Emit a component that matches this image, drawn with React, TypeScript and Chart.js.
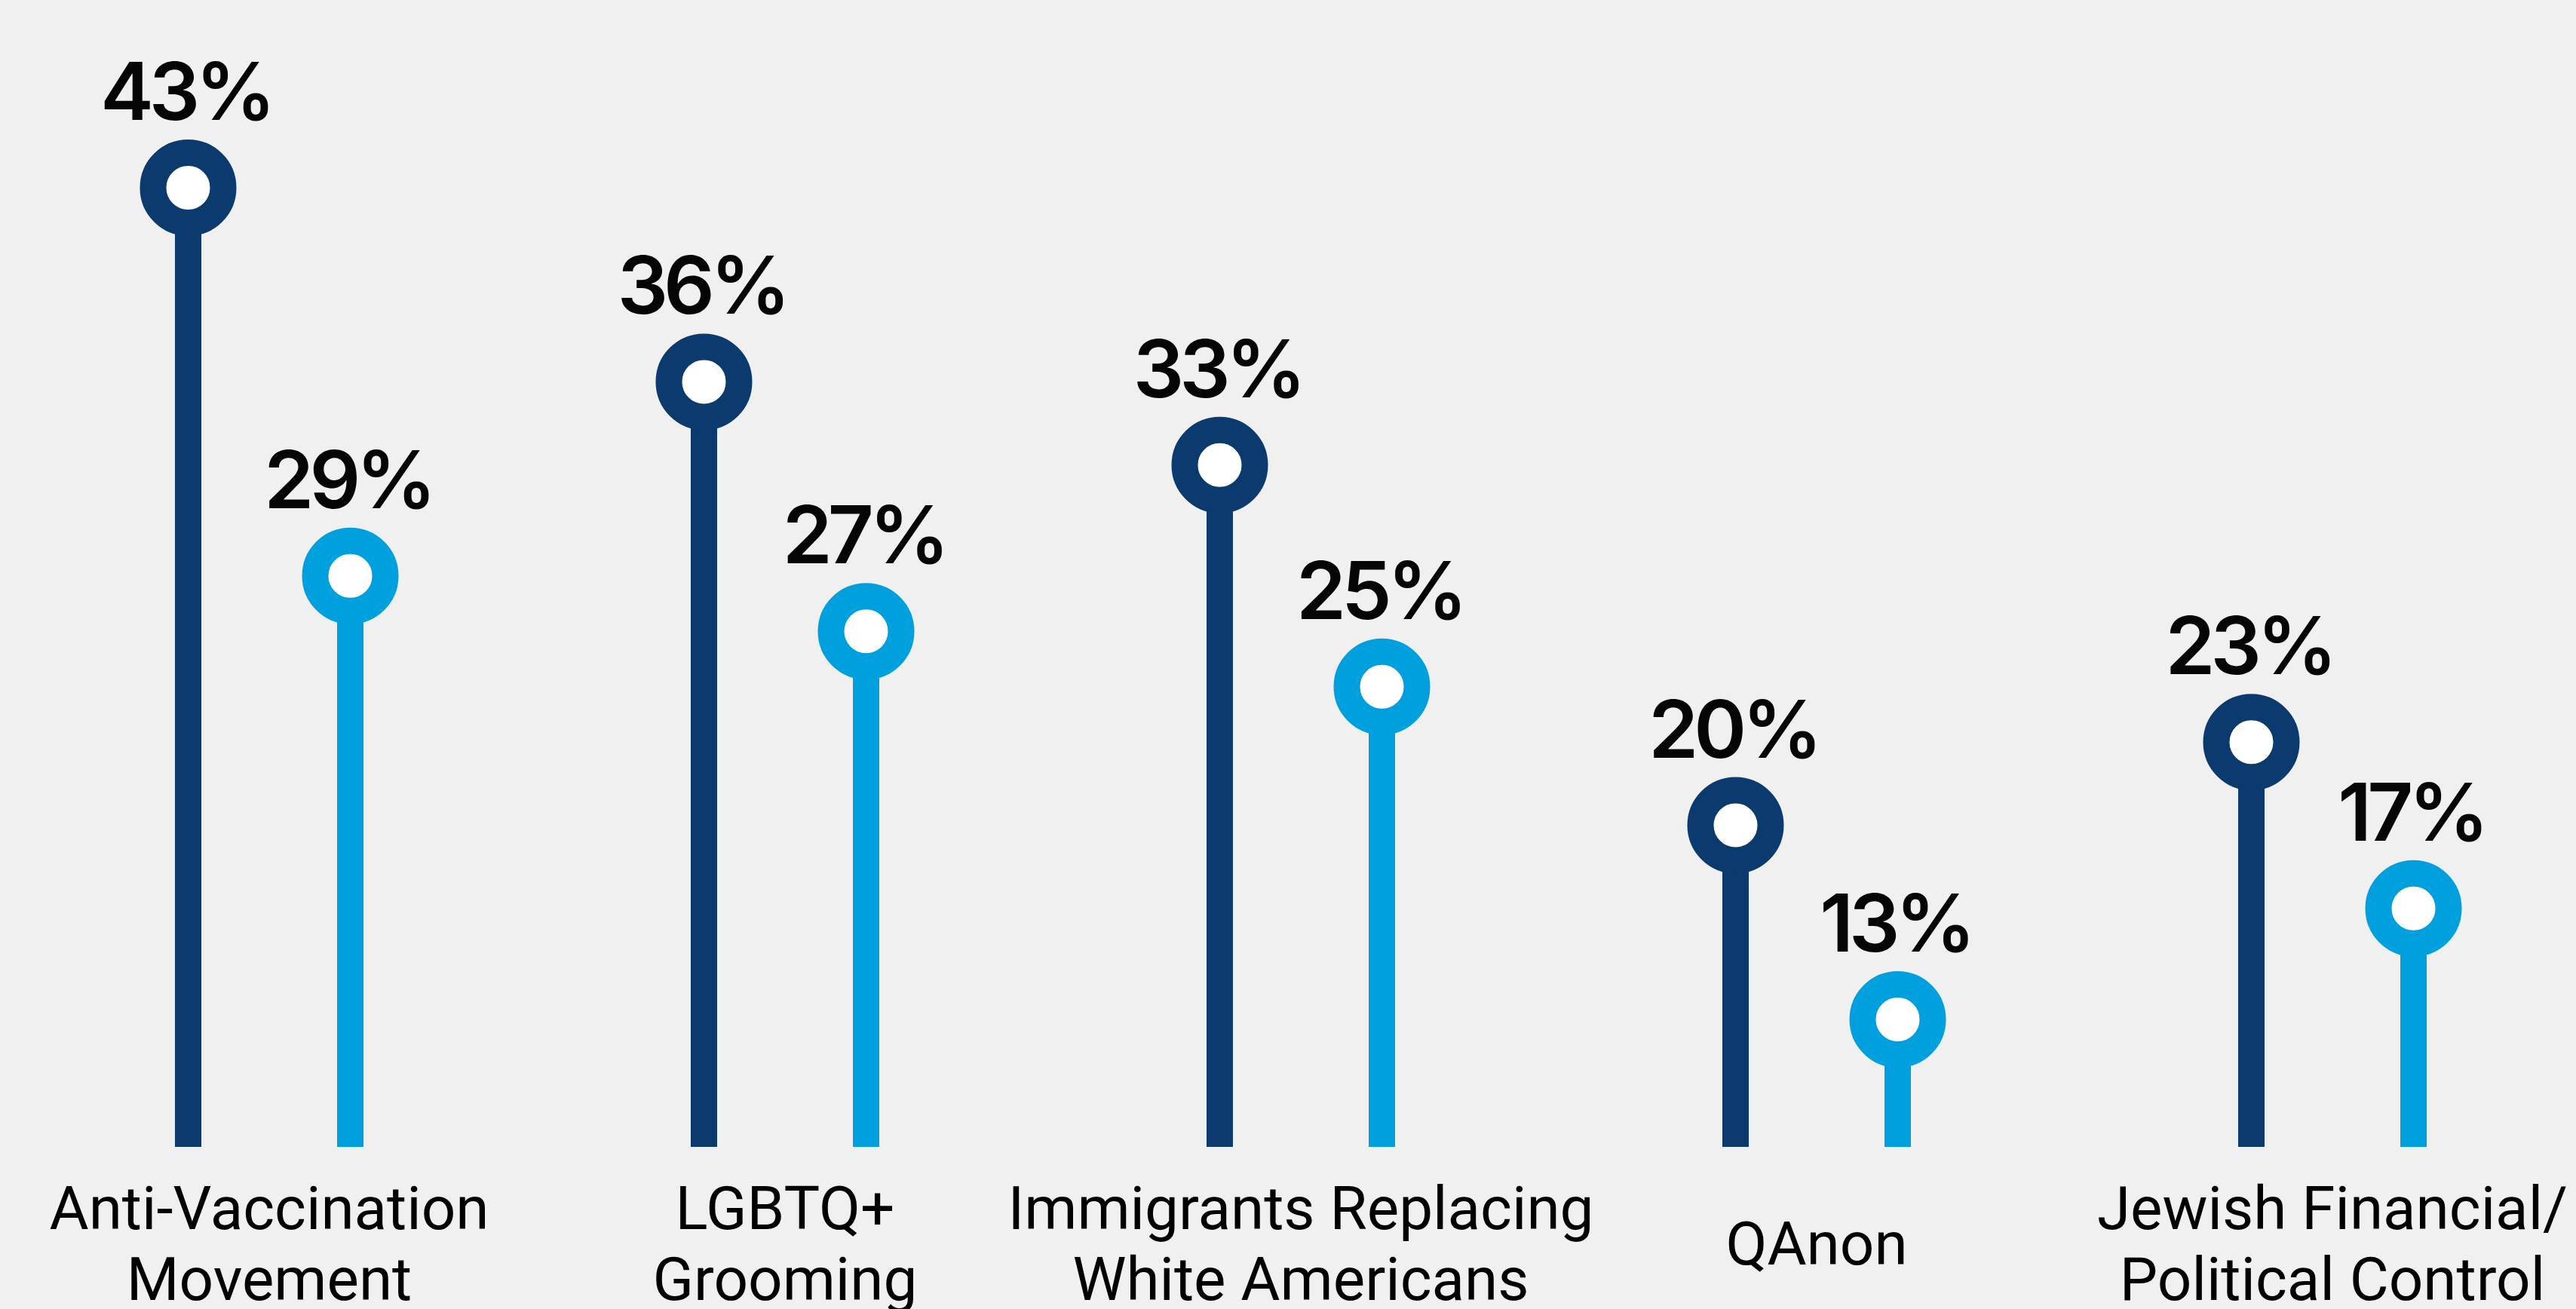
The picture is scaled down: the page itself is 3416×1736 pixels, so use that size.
import React, { useEffect, useRef } from 'react';
import { Chart, registerables } from 'chart.js';

Chart.register(...registerables);

// ---- data ----
const categories: string[][] = [
  ['Anti-Vaccination', 'Movement'],
  ['LGBTQ+', 'Grooming'],
  ['Immigrants Replacing', 'White Americans'],
  ['QAnon'],
  ['Jewish Financial/', 'Political Control'],
];
const seriesNames = ['Series A', 'Series B'];
const darkValues = [43, 36, 33, 20, 23];
const lightValues = [29, 27, 25, 13, 17];

// ---- styling ----
const W_VIEW = 3416;
const H_VIEW = 1736;
const CANVAS_W = 3435;
const AXIS_H = 300;
const CANVAS_H = 1521 + AXIS_H;
const BG = '#F0F0F0';
const DARK = '#0B3B6E';
const LIGHT = '#00A0DF';
const Y_MIN = 8.4;
const Y_MAX = 47;
const RING_R = 46.5;
const RING_W = 35;
const LABEL_GAP = 90;

const lollipopPlugin = {
  id: 'lollipop',
  afterDatasetsDraw(chart: any) {
    const ctx = chart.ctx as CanvasRenderingContext2D;
    chart.data.datasets.forEach((ds: any, di: number) => {
      const meta = chart.getDatasetMeta(di);
      meta.data.forEach((el: any, i: number) => {
        const { x, y } = el.getProps(['x', 'y'], true);
        ctx.save();
        ctx.beginPath();
        ctx.arc(x, y, RING_R, 0, Math.PI * 2);
        ctx.fillStyle = '#FFFFFF';
        ctx.fill();
        ctx.lineWidth = RING_W;
        ctx.strokeStyle = ds.backgroundColor;
        ctx.stroke();
        ctx.font = '600 106px Inter';
        (ctx as any).letterSpacing = '-6px';
        ctx.fillStyle = '#050505';
        ctx.textAlign = 'center';
        ctx.textBaseline = 'alphabetic';
        ctx.fillText(`${ds.data[i]}%`, x - 3, y - LABEL_GAP);
        ctx.restore();
      });
    });
  },
};

export default function App() {
  const ref = useRef<HTMLCanvasElement>(null);

  useEffect(() => {
    document.body.style.margin = '0';
    document.body.style.background = BG;
    const chart = new Chart(ref.current!, {
      type: 'bar',
      data: {
        labels: categories,
        datasets: [
          {
            label: seriesNames[0],
            data: darkValues,
            backgroundColor: DARK,
            borderWidth: 0,
            base: Y_MIN,
          } as any,
          {
            label: seriesNames[1],
            data: lightValues,
            backgroundColor: LIGHT,
            borderWidth: 0,
            base: Y_MIN,
          } as any,
        ],
      },
      options: {
        responsive: false,
        animation: false,
        devicePixelRatio: 1,
        layout: { padding: { top: 102, left: 15, right: 0, bottom: 0 } },
        datasets: { bar: { categoryPercentage: 0.6287, barPercentage: 0.1628 } },
        plugins: {
          legend: { display: false },
          tooltip: { enabled: false },
        },
        scales: {
          x: {
            offset: true,
            grid: { display: false, drawTicks: false },
            border: { display: false },
            ticks: {
              color: '#000',
              font: { family: 'Roboto', size: 80, weight: 'normal', lineHeight: 1.175 },
              padding: 89,
              maxRotation: 0,
              minRotation: 0,
              autoSkip: false,
              crossAlign: 'center',
            },
            afterFit: (scale: any) => {
              scale.height = AXIS_H;
              scale.paddingLeft = 0;
              scale.paddingRight = 0;
            },
          },
          y: {
            display: false,
            min: Y_MIN,
            max: Y_MAX,
          },
        },
      },
      plugins: [lollipopPlugin],
    });
    return () => chart.destroy();
  }, []);

  return (
    <div
      style={{
        position: 'absolute',
        left: 0,
        top: 0,
        width: W_VIEW,
        height: H_VIEW,
        overflow: 'hidden',
        background: BG,
      }}
    >
      <canvas ref={ref} width={CANVAS_W} height={CANVAS_H} style={{ display: 'block', width: CANVAS_W, height: CANVAS_H }} />
    </div>
  );
}
